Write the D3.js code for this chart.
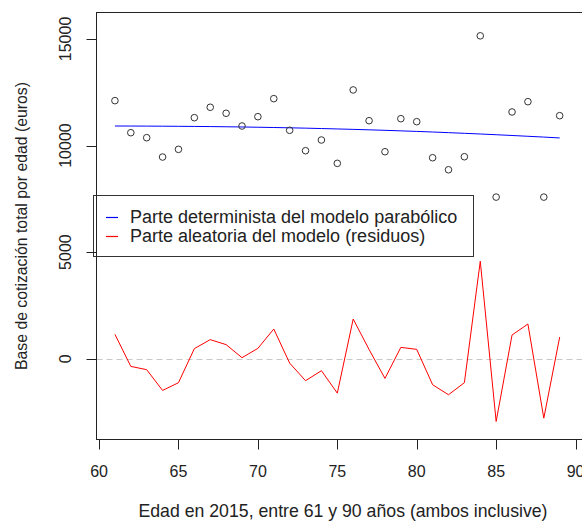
<!DOCTYPE html>
<html>
<head>
<meta charset="utf-8">
<script src="https://cdn.jsdelivr.net/npm/d3@7"></script>
<style>
  body { margin: 0; background: #fff; }
  svg text { font-family: "Liberation Sans", Arial, sans-serif; fill: #222; }
</style>
</head>
<body>
<div id="chart"></div>
<script>
// Ages 61..89
const ages = [61, 62, 63, 64, 65, 66, 67, 68, 69, 70, 71, 72, 73, 74, 75,
              76, 77, 78, 79, 80, 81, 82, 83, 84, 85, 86, 87, 88, 89];

// Observed base de cotización (circles)
const observed = [12105, 10602, 10367, 9460, 9821, 11306, 11795, 11513, 10916, 11353,
                  12199, 10714, 9756, 10259, 9164, 12608, 11165, 9709, 11259, 11118,
                  9427, 8863, 9474, 15146, 7580, 11574, 12058, 7580, 11400];

// Deterministic part of the parabolic model (blue line)
const fitted = [10916, 10914, 10911, 10907, 10902, 10896, 10889, 10880, 10870, 10858,
                10845, 10831, 10815, 10797, 10778, 10758, 10736, 10713, 10688, 10662,
                10634, 10604, 10573, 10541, 10507, 10471, 10434, 10396, 10356];

// Random part / residuals (red line)
const residuals = [1142, -362, -517, -1490, -1128, 470, 893, 658, 47, 484,
                   1391, -207, -1034, -564, -1617, 1861, 430, -926, 531, 437,
                   -1222, -1692, -1128, 4572, -2946, 1109, 1626, -2791, 1015];

const xTicks = [60, 65, 70, 75, 80, 85, 90];
const yTicks = [0, 5000, 10000, 15000];
const legendLabels = ["Parte determinista del modelo parabólico",
                      "Parte aleatoria del modelo (residuos)"];
const legendColors = ["#0000ff", "#ff0000"];

const width = 582, height = 523;
const plot = { left: 96.5, top: 12.5, bottom: 439.5, right: 594 };

const svg = d3.select("#chart").append("svg")
    .attr("width", width)
    .attr("height", height);

const x = d3.scaleLinear().domain([59.84, 91.16]).range([plot.left, plot.right]);
const y = d3.scaleLinear().domain([-3792, 16241]).range([plot.bottom, plot.top]);

// Zero reference line
svg.append("line")
    .attr("x1", plot.left).attr("x2", plot.right)
    .attr("y1", Math.round(y(0)) + 0.5).attr("y2", Math.round(y(0)) + 0.5)
    .attr("stroke", "#c8c8c8")
    .attr("stroke-width", 1.2)
    .attr("stroke-dasharray", "6,4");

// Fitted line
const line = d3.line().x(d => x(d[0])).y(d => y(d[1]));
svg.append("path")
    .datum(ages.map((a, i) => [a, fitted[i]]))
    .attr("d", line)
    .attr("fill", "none")
    .attr("stroke", "#0000ff")
    .attr("stroke-width", 1);

// Residuals line
svg.append("path")
    .datum(ages.map((a, i) => [a, residuals[i]]))
    .attr("d", line)
    .attr("fill", "none")
    .attr("stroke", "#ff0000")
    .attr("stroke-width", 1);

// Observed points
svg.selectAll("circle.obs")
    .data(ages.map((a, i) => [a, observed[i]]))
    .join("circle")
    .attr("class", "obs")
    .attr("cx", d => x(d[0]))
    .attr("cy", d => y(d[1]))
    .attr("r", 3.3)
    .attr("fill", "none")
    .attr("stroke", "#333")
    .attr("stroke-width", 1);

// Legend
const lg = svg.append("g");
lg.append("rect")
    .attr("x", 93.5).attr("y", 195.5)
    .attr("width", 380).attr("height", 61)
    .attr("fill", "#fff")
    .attr("stroke", "#333")
    .attr("stroke-width", 1);
legendLabels.forEach((lab, i) => {
    const ly = 217.5 + i * 19;
    lg.append("line")
        .attr("x1", 106).attr("x2", 118)
        .attr("y1", ly).attr("y2", ly)
        .attr("stroke", legendColors[i])
        .attr("stroke-width", 1.2);
    lg.append("text")
        .attr("x", 130).attr("y", ly + 5.3)
        .attr("font-size", 18)
        .text(lab);
});

// Plot box
svg.append("rect")
    .attr("x", plot.left).attr("y", plot.top)
    .attr("width", plot.right - plot.left)
    .attr("height", plot.bottom - plot.top)
    .attr("fill", "none")
    .attr("stroke", "#222")
    .attr("stroke-width", 1);

// X axis
const xAxis = svg.append("g");
xAxis.selectAll("line")
    .data(xTicks)
    .join("line")
    .attr("x1", d => Math.round(x(d)) + 0.5).attr("x2", d => Math.round(x(d)) + 0.5)
    .attr("y1", plot.bottom).attr("y2", plot.bottom + 10)
    .attr("stroke", "#222");
xAxis.selectAll("text")
    .data(xTicks)
    .join("text")
    .attr("x", d => x(d))
    .attr("y", 476.5)
    .attr("text-anchor", "middle")
    .attr("font-size", 16)
    .text(d => d);

// Y axis
const yAxis = svg.append("g");
yAxis.selectAll("line")
    .data(yTicks)
    .join("line")
    .attr("x1", plot.left - 10).attr("x2", plot.left)
    .attr("y1", d => Math.round(y(d)) + 0.5).attr("y2", d => Math.round(y(d)) + 0.5)
    .attr("stroke", "#222");
yAxis.selectAll("text")
    .data(yTicks)
    .join("text")
    .attr("transform", d => `translate(71,${y(d)}) rotate(-90)`)
    .attr("text-anchor", "middle")
    .attr("font-size", 16)
    .text(d => d);

// Axis titles
svg.append("text")
    .attr("x", 343)
    .attr("y", 516.5)
    .attr("text-anchor", "middle")
    .attr("font-size", 17.7)
    .text("Edad en 2015, entre 61 y 90 años (ambos inclusive)");

svg.append("text")
    .attr("transform", `translate(27,${(plot.top + plot.bottom) / 2}) rotate(-90)`)
    .attr("text-anchor", "middle")
    .attr("font-size", 15.8)
    .text("Base de cotización total por edad (euros)");
</script>
</body>
</html>
